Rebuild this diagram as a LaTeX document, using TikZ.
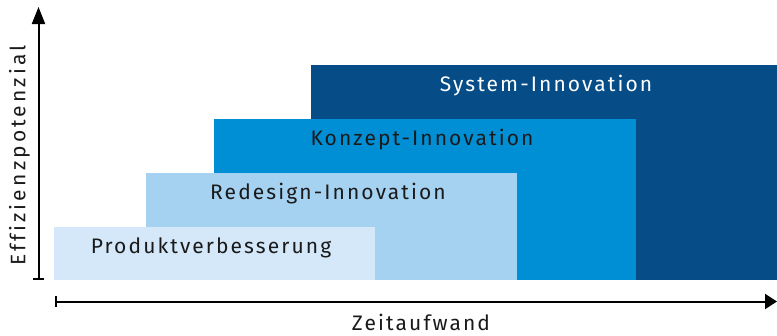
\documentclass[tikz,border=0pt]{standalone}
\usepackage{fontspec}
\setmainfont{Fira Sans}[LetterSpace=10,Ligatures=NoCommon]
\usetikzlibrary{arrows.meta}
\definecolor{stufeA}{HTML}{D4E8F9}
\definecolor{stufeB}{HTML}{A5D2F1}
\definecolor{stufeC}{HTML}{008FD5}
\definecolor{stufeD}{HTML}{064D88}
\definecolor{schrift}{HTML}{1A1A1A}
\begin{document}
\begin{tikzpicture}[x=1pt,y=-1pt,
  stufe/.style={draw=none,inner sep=0pt,anchor=north west},
  etikett/.style={font=\fontsize{21}{25}\selectfont,text=schrift,inner sep=0pt},
  achse/.style={line width=2pt,draw=black}]
\useasboundingbox (0,0) rectangle (777,335);
% stacked innovation levels, drawn back to front
\node[stufe,fill=stufeD,minimum width=466pt,minimum height=215pt] (sys) at (311,65) {};
\node[stufe,fill=stufeC,minimum width=422pt,minimum height=161pt] (konz) at (214,119) {};
\node[stufe,fill=stufeB,minimum width=371pt,minimum height=107pt] (redes) at (146,173) {};
\node[stufe,fill=stufeA,minimum width=321pt,minimum height=53pt] (prod) at (54,227) {};
% level labels
\node[etikett,text=white] (tsys) at (546,86) {System-Innovation};
\node[etikett] (tkonz) at (422,140) {Konzept-Innovation};
\node[etikett] (tredes) at (328,194) {Redesign-Innovation};
\node[etikett] (tprod) at (211,248) {Produktverbesserung};
% axes
\coordinate (y0) at (38.5,280);
\coordinate (y1) at (38.5,7);
\coordinate (x0) at (55,301.5);
\coordinate (x1) at (777,301.5);
\draw[achse,{Bar[width=11pt,line width=2pt]}-{Triangle[length=17pt,width=13pt]}] (y0) -- (y1);
\draw[achse,{Bar[width=11pt,line width=2pt]}-{Triangle[length=12pt,width=15pt]}] (x0) -- (x1);
\node[etikett,rotate=90,font=\fontsize{21}{25}\selectfont\addfontfeature{LetterSpace=15}] (ty) at (19.5,155.5) {Effizienzpotenzial};
\node[etikett] (tx) at (421,322) {Zeitaufwand};
\end{tikzpicture}
\end{document}
